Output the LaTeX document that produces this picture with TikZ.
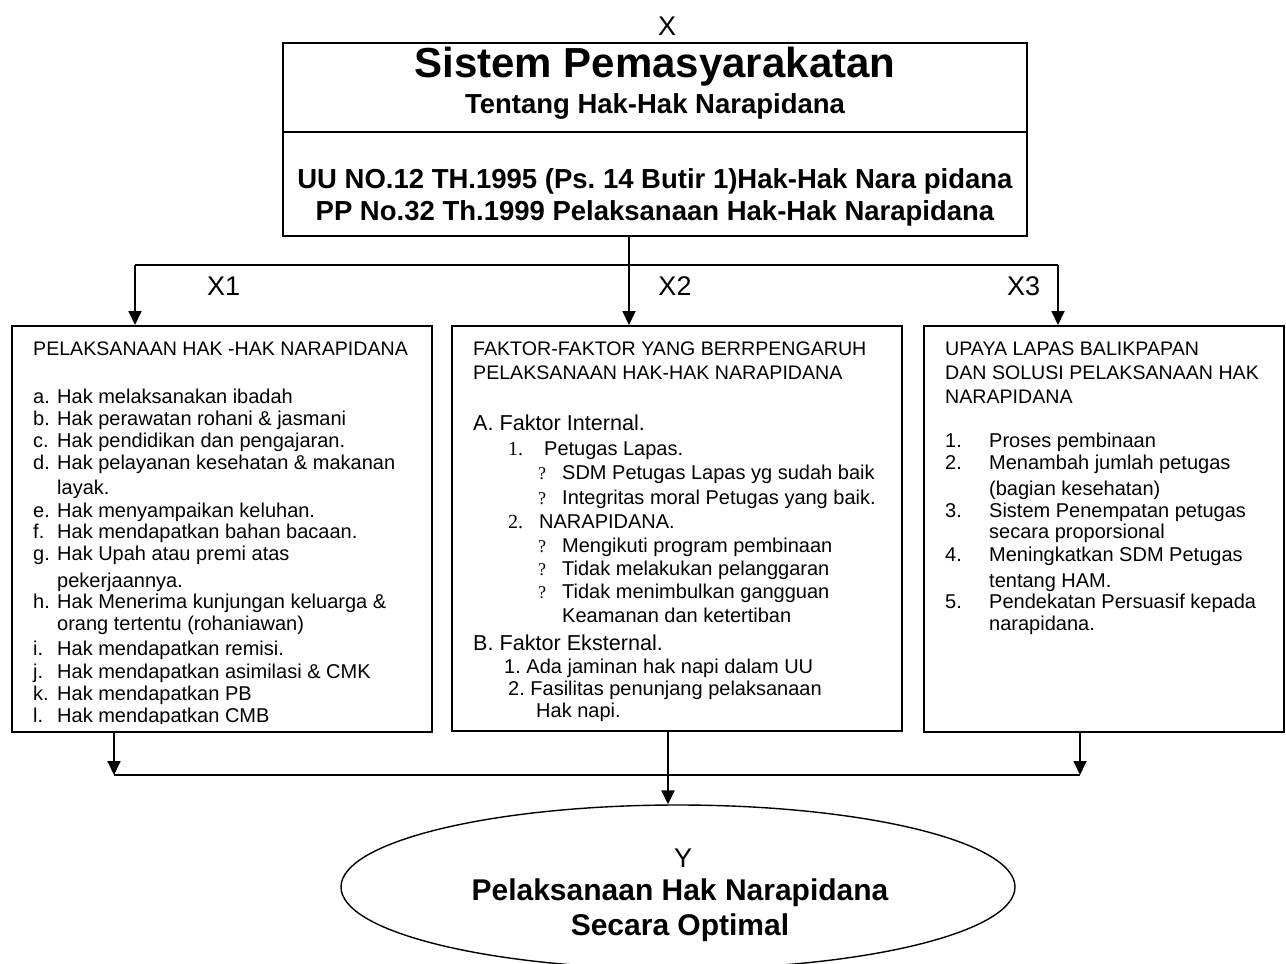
\documentclass[tikz,border=0pt]{standalone}
\usepackage{fontspec}
\setmainfont{Liberation Sans}
\newfontfamily\tnrfont{Liberation Serif}
\usetikzlibrary{arrows.meta,shapes.geometric}
\frenchspacing
\tikzset{
  boxstyle/.style={draw, line width=2pt, rectangle, inner sep=0pt, anchor=north west},
  conn/.style={line width=1.8pt},
  arr/.style={line width=1.8pt, -{Triangle[width=13pt,length=14pt]}},
  txt/.style={anchor=base west, inner sep=0pt, font=\fontsize{20}{24}\selectfont},
  hdr/.style={anchor=base west, inner sep=0pt, font=\fontsize{19.6}{24}\selectfont},
  big/.style={anchor=base west, inner sep=0pt, font=\fontsize{21.6}{26}\selectfont},
  lbl/.style={inner sep=0pt, font=\fontsize{27}{32}\selectfont},
  ttl/.style={anchor=base, inner sep=0pt, font=\bfseries\fontsize{27.5}{32}\selectfont},
  ytl/.style={anchor=base, inner sep=0pt, font=\bfseries\fontsize{30}{34}\selectfont},
}
\begin{document}
\frenchspacing
\begin{tikzpicture}[x=1pt,y=-1pt]
\useasboundingbox (0,0) rectangle (1286,964);

% top box
\node[boxstyle, minimum width=744pt, minimum height=193pt] (T) at (282,42) {};
\draw[line width=2pt] (T.west |- 0,132) -- (T.east |- 0,132);
\node[lbl, anchor=base] (xlab) at (667,35) {X};
\node[anchor=base, inner sep=0pt, font=\bfseries\fontsize{42}{48}\selectfont] (t1) at (655,77) {Sistem Pemasyarakatan};
\node[ttl] (t2) at (655,113) {Tentang Hak-Hak Narapidana};
\node[ttl] (t3) at (655,188) {UU NO.12 TH.1995 (Ps.\ 14 Butir 1)Hak-Hak Nara pidana};
\node[ttl] (t4) at (655,220) {PP No.32 Th.1999 Pelaksanaan Hak-Hak Narapidana};

% three boxes
\node[boxstyle, minimum width=420pt, minimum height=406pt] (L) at (11,325) {};
\node[boxstyle, minimum width=450pt, minimum height=405pt] (M) at (451,325) {};
\node[boxstyle, minimum width=360pt, minimum height=406pt] (R) at (923,325) {};

% ellipse
\node[draw, ellipse, line width=1.4pt, minimum width=674pt, minimum height=164pt, inner sep=0pt] (E) at (678,887) {};
\node[lbl, anchor=base] (ylab) at (683,867) {Y};
\node[ytl] (y1) at (680,900) {Pelaksanaan Hak Narapidana};
\node[ytl] (y2) at (680,935) {Secara Optimal};

% top connectors
\coordinate (tm) at (629,235);
\coordinate (hl) at (135,265);
\coordinate (hr) at (1058,265);
\draw[arr] (tm) -- (tm |- M.north);
\draw[conn] (hl) -- (hr);
\draw[arr] (hl) -- (hl |- L.north);
\draw[arr] (hr) -- (hr |- R.north);
\node[lbl, anchor=base west] (x1) at (207,295) {X1};
\node[lbl, anchor=base] (x2) at (675,295) {X2};
\node[lbl, anchor=base west] (x3) at (1007,295) {X3};

% bottom connectors
\coordinate (lb) at (114,731);
\coordinate (rb) at (1080,731);
\coordinate (mb) at (668,730);
\coordinate (bl) at (114,775);
\coordinate (br) at (1080,775);
\draw[conn] (bl) -- (br);
\draw[arr] (lb) -- (bl);
\draw[arr] (rb) -- (br);
\draw[arr] (mb) -- (mb |- E.north);

% left box text
\node[hdr] (lh) at (33,355) {PELAKSANAAN HAK -HAK NARAPIDANA};
\begin{scope}
\clip (11,325) rectangle (431,723.5);
\foreach \y/\a/\t [count=\i] in {
  403/a./Hak melaksanakan ibadah,
  425/b./Hak perawatan rohani \& jasmani,
  447/c./Hak pendidikan dan pengajaran.,
  469/d./Hak pelayanan kesehatan \& makanan,
  494//layak.,
  517/e./Hak menyampaikan keluhan.,
  538/f./Hak mendapatkan bahan bacaan.,
  560/g./Hak Upah atau premi atas,
  587//pekerjaannya.,
  608/h./Hak Menerima kunjungan keluarga \&,
  630//orang tertentu (rohaniawan),
  655/i./Hak mendapatkan remisi.,
  678/j./Hak mendapatkan asimilasi \& CMK,
  700/k./Hak mendapatkan PB,
  722/l./Hak mendapatkan CMB}{
  \node[txt] (la\i) at (33,\y) {\a};
  \node[txt] (lt\i) at (57,\y) {\t};
}
\end{scope}

% middle box text
\node[hdr] (mh1) at (473,355) {FAKTOR-FAKTOR YANG BERRPENGARUH};
\node[hdr] (mh2) at (473,379) {PELAKSANAAN HAK-HAK NARAPIDANA};
\node[big] (ma) at (473,430) {A. Faktor Internal.};
\node[txt, font=\tnrfont\fontsize{20}{24}\selectfont] (mn1) at (508,455) {1.};
\node[txt] (mp) at (544,455) {Petugas Lapas.};
\node[txt, font=\tnrfont\fontsize{18}{24}\selectfont] (mq1) at (538,479) {?};
\node[txt] (ms1) at (562,479) {SDM Petugas Lapas yg sudah baik};
\node[txt, font=\tnrfont\fontsize{18}{24}\selectfont] (mq2) at (538,504) {?};
\node[txt] (ms2) at (562,504) {Integritas moral Petugas yang baik.};
\node[txt, font=\tnrfont\fontsize{20}{24}\selectfont] (mn2) at (508,528) {2.};
\node[txt] (mnp) at (539,528) {NARAPIDANA.};
\node[txt, font=\tnrfont\fontsize{18}{24}\selectfont] (mq3) at (538,552) {?};
\node[txt] (ms3) at (562,552) {Mengikuti program pembinaan};
\node[txt, font=\tnrfont\fontsize{18}{24}\selectfont] (mq4) at (538,575) {?};
\node[txt] (ms4) at (562,575) {Tidak melakukan pelanggaran};
\node[txt, font=\tnrfont\fontsize{18}{24}\selectfont] (mq5) at (538,598) {?};
\node[txt] (ms5) at (562,598) {Tidak menimbulkan gangguan};
\node[txt] (ms6) at (562,622) {Keamanan dan ketertiban};
\node[big] (mb1) at (473,650) {B. Faktor Eksternal.};
\node[txt] (me1) at (504,673) {1. Ada jaminan hak napi dalam UU};
\node[txt] (me2) at (508,695) {2. Fasilitas penunjang pelaksanaan};
\node[txt] (me3) at (536,717) {Hak napi.};

% right box text
\node[hdr] (rh1) at (945,355) {UPAYA LAPAS BALIKPAPAN};
\node[hdr] (rh2) at (945,379) {DAN SOLUSI PELAKSANAAN HAK};
\node[hdr] (rh3) at (945,403) {NARAPIDANA};
\foreach \y/\a/\t [count=\i] in {
  447/1./Proses pembinaan,
  469/2./Menambah jumlah petugas,
  495//(bagian kesehatan),
  517/3./Sistem Penempatan petugas,
  538//secara proporsional,
  561/4./Meningkatkan SDM Petugas,
  587//tentang HAM.,
  608/5./Pendekatan Persuasif kepada,
  630//narapidana.}{
  \node[txt] (ra\i) at (945,\y) {\a};
  \node[txt] (rt\i) at (989,\y) {\t};
}
\end{tikzpicture}
\end{document}
